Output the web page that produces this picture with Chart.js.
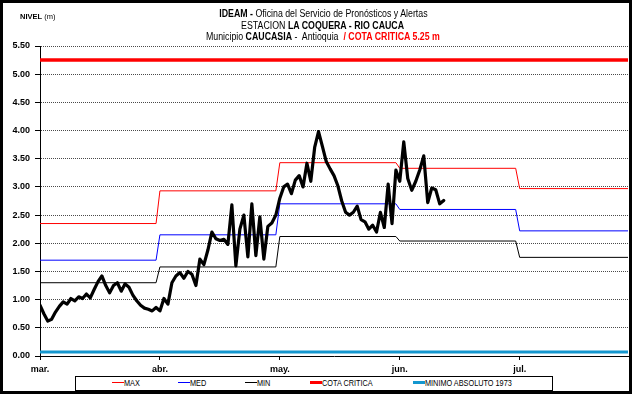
<!DOCTYPE html>
<html>
<head>
<meta charset="utf-8">
<script src="https://cdn.jsdelivr.net/npm/chart.js@4.4.1/dist/chart.umd.min.js"></script>
<style>
body { margin: 0; background: #fff; }
#wrap { position: relative; width: 632px; height: 394px; overflow: hidden; font-family: "Liberation Sans", Arial, sans-serif; color: #000; }
#grafico { position: absolute; left: 0; top: 0; }
#marco { position: absolute; left: 0; top: 0; width: 632px; height: 394px; box-sizing: border-box; border: 3px solid #000; pointer-events: none; }
.titulo { position: absolute; left: 23px; width: 600px; text-align: center; font-size: 10px; line-height: 12px; white-space: nowrap; }
.angosto { display: inline-block; transform: scaleX(0.88); }
.rojo { color: #ff0000; }
#nivel { position: absolute; left: 20px; top: 12px; font-size: 7.5px; line-height: 9px; white-space: nowrap; }
#leyenda { position: absolute; left: 75px; top: 376px; width: 478px; height: 15px; box-sizing: border-box; border: 1px solid #000; background: #fff; }
.item { position: absolute; top: 0; height: 13px; font-size: 8.5px; line-height: 13px; white-space: nowrap; }
.item i { display: inline-block; width: 12px; vertical-align: middle; margin-top: -2px; }
.item span { display: inline-block; transform: scaleX(0.86); transform-origin: left center; }
</style>
</head>
<body>
<div id="wrap">
  <canvas id="grafico" width="632" height="394"></canvas>
  <div id="nivel"><b>NIVEL</b> (m)</div>
  <div class="titulo" style="top:8px"><span class="angosto"><b>IDEAM -</b> Oficina del Servicio de Pronósticos y Alertas</span></div>
  <div class="titulo" style="top:20px"><span class="angosto">ESTACION <b>LA COQUERA - RIO CAUCA</b></span></div>
  <div class="titulo" style="top:31px"><span class="angosto">Municipio <b>CAUCASIA</b> -&nbsp; Antioquia&nbsp; <b class="rojo">/ COTA CRITICA 5.25 m</b></span></div>
  <div id="leyenda">
    <div class="item" style="left:36px"><i style="border-top:1px solid #ff0000"></i><span>MAX</span></div>
    <div class="item" style="left:102px"><i style="border-top:1px solid #0000ff"></i><span>MED</span></div>
    <div class="item" style="left:169px"><i style="border-top:1px solid #000"></i><span>MIN</span></div>
    <div class="item" style="left:234px"><i style="border-top:3px solid #ff0000"></i><span>COTA CRITICA</span></div>
    <div class="item" style="left:337px"><i style="border-top:3px solid #1497cf"></i><span>MINIMO ABSOLUTO 1973</span></div>
  </div>
  <div id="marco"></div>
</div>
<script>
// meses del eje y dias de cada uno
const meses = ['mar.', 'abr.', 'may.', 'jun.', 'jul.'];
const diasMes = [31, 30, 31, 30, 31];

// niveles historicos mensuales (m)
const nivelMax = [2.35, 2.93, 3.43, 3.33, 2.97];
const nivelMed = [1.70, 2.15, 2.70, 2.60, 2.22];
const nivelMin = [1.30, 1.58, 2.12, 2.04, 1.75];

const cotaCritica = 5.25;
const minimoAbsoluto = 0.07;

// nivel diario observado desde el 1 de marzo
const nivelDiario = [
  // marzo
  0.90, 0.75, 0.62, 0.65, 0.78, 0.88, 0.96, 0.92, 1.02, 0.98, 1.05, 1.02, 1.10, 1.03, 1.18, 1.32,
  1.42, 1.25, 1.12, 1.25, 1.30, 1.15, 1.28, 1.22, 1.08, 0.98, 0.90, 0.85, 0.83, 0.80, 0.86,
  // abril
  0.80, 1.02, 0.92, 1.30, 1.42, 1.48, 1.38, 1.50, 1.45, 1.25, 1.72, 1.62, 1.88, 2.20, 2.08,
  2.05, 2.07, 1.98, 2.68, 1.60, 2.25, 2.50, 1.76, 2.70, 1.78, 2.47, 1.72, 2.30, 2.36, 2.50,
  // mayo
  2.80, 3.00, 3.05, 2.88, 3.12, 3.20, 3.00, 3.42, 3.10, 3.70, 3.98, 3.72, 3.45, 3.32, 3.20, 3.02,
  2.75, 2.55, 2.50, 2.55, 2.66, 2.42, 2.38, 2.25, 2.32, 2.20, 2.55, 2.28, 3.05, 2.35, 3.30,
  // junio
  3.10, 3.80, 3.15, 2.94, 3.10, 3.30, 3.55, 2.72, 2.98, 2.95, 2.70, 2.76
];

// el eje termina el 29 de julio
const xMax = 4 + 28 / 31;

// dia contado desde el 1 de marzo -> posicion en meses
function posicion(dia) {
  let m = 0;
  while (m < diasMes.length - 1 && dia >= diasMes[m]) {
    dia -= diasMes[m];
    m++;
  }
  return m + dia / diasMes[m];
}

function escalones(valores) {
  const pts = [];
  valores.forEach((v, m) => {
    pts.push({ x: m, y: v });
    const fin = m === valores.length - 1 ? xMax : m + (diasMes[m] - 1) / diasMes[m];
    pts.push({ x: fin, y: v });
  });
  return pts;
}

function constante(v) {
  return [{ x: 0, y: v }, { x: xMax, y: v }];
}

Chart.defaults.font.family = '"Liberation Sans", Arial, sans-serif';
Chart.defaults.color = '#000';

const ctx = document.getElementById('grafico').getContext('2d');
const chart = new Chart(ctx, {
  type: 'line',
  data: {
    datasets: [
      {
        label: 'NIVEL',
        data: nivelDiario.map((v, i) => ({ x: posicion(i), y: v })),
        borderColor: '#000',
        borderWidth: 3.2,
        borderJoinStyle: 'round',
        borderCapStyle: 'round',
        pointRadius: 0
      },
      { label: 'MAX', data: escalones(nivelMax), borderColor: '#ff0000', borderWidth: 1, pointRadius: 0 },
      { label: 'MED', data: escalones(nivelMed), borderColor: '#0000ff', borderWidth: 1, pointRadius: 0 },
      { label: 'MIN', data: escalones(nivelMin), borderColor: '#000', borderWidth: 1, pointRadius: 0 },
      { label: 'COTA CRITICA', data: constante(cotaCritica), borderColor: '#ff0000', borderWidth: 3.5, pointRadius: 0 },
      { label: 'MINIMO ABSOLUTO 1973', data: constante(minimoAbsoluto), borderColor: '#1497cf', borderWidth: 3, pointRadius: 0 }
    ]
  },
  options: {
    responsive: false,
    animation: false,
    layout: { padding: { left: 0, top: 46, right: 4, bottom: 18 } },
    plugins: { legend: { display: false }, tooltip: { enabled: false } },
    scales: {
      x: {
        type: 'linear',
        min: 0,
        max: xMax,
        afterBuildTicks: (scale) => { scale.ticks = meses.map((_, i) => ({ value: i })); },
        afterFit: (scale) => { scale.height = 20; },
        ticks: {
          autoSkip: false,
          maxRotation: 0,
          padding: 4,
          font: { size: 9, weight: 'bold' },
          callback: (v) => meses[v] || ''
        },
        grid: { drawOnChartArea: false, drawTicks: true, tickLength: 4, tickColor: '#000' },
        border: { display: true, color: '#000', width: 1 }
      },
      y: {
        min: 0,
        max: 5.5,
        afterFit: (scale) => { scale.width = 40; },
        ticks: {
          stepSize: 0.5,
          padding: 5,
          font: { size: 9, weight: 'bold' },
          callback: (v) => v.toFixed(2)
        },
        grid: { color: '#4a4a4a', lineWidth: 1, tickLength: 5, tickColor: '#000', tickBorderDash: [] },
        border: { display: true, color: '#000', width: 1, dash: [1, 1] }
      }
    }
  }
});
</script>
</body>
</html>
